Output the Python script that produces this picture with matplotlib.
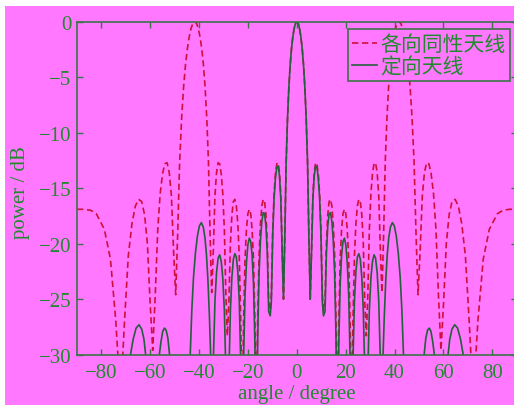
import matplotlib
matplotlib.use('Agg')
import matplotlib.pyplot as plt
from matplotlib.patches import Rectangle

# ---------------- data ----------------
iso_angle = [
    -90.0, -87.0, -84.3, -82.1, -78.8, -76.3, -74.1, -72.2,
    -70.5, -69.0, -67.5, -66.1, -64.79, -63.52, -62.33, -61.18, -60.07, -59.0,
    -57.96, -56.94, -55.95, -54.98, -54.05, -53.13, -52.23, -51.35, -50.48, -49.6,
    -48.8, -47.98, -47.17, -46.37, -45.6, -44.8, -44.05, -43.3, -42.55, -41.8,
    -41.08, -40.36, -39.65, -38.95, -38.24, -37.56, -36.87, -36.19, -35.52, -34.85,
    -34.19, -33.53, -32.88, -32.23, -31.59, -30.95, -30.32, -29.68, -29.06, -28.44,
    -27.82, -27.2, -26.59, -25.98, -25.38, -24.77, -24.17, -23.58, -22.99, -22.39,
    -21.8, -21.22, -20.63, -20.05, -19.47, -18.89, -18.32, -17.75, -17.17, -16.6,
    -16.03, -15.47, -14.9, -14.34, -13.77, -13.21, -12.65, -12.09, -11.54, -10.9,
    -10.43, -9.87, -9.32, -8.77, -8.21, -7.66, -7.11, -6.56, -6.01, -5.47,
    -4.91, -4.37, -3.82, -3.27, -2.73, -2.18, -1.64, -1.09, -0.55,
    0.0,
    0.55, 1.09, 1.64, 2.18, 2.73, 3.27, 3.82, 4.37, 4.91,
    5.47, 6.01, 6.56, 7.11, 7.66, 8.21, 8.77, 9.32, 9.87, 10.43,
    10.9, 11.54, 12.09, 12.65, 13.21, 13.77, 14.34, 14.9, 15.47, 16.03,
    16.6, 17.17, 17.75, 18.32, 18.89, 19.47, 20.05, 20.63, 21.22, 21.8,
    22.39, 22.99, 23.58, 24.17, 24.77, 25.38, 25.98, 26.59, 27.2, 27.82,
    28.44, 29.06, 29.68, 30.32, 30.95, 31.59, 32.23, 32.88, 33.53, 34.19,
    34.85, 35.52, 36.19, 36.87, 37.56, 38.24, 38.95, 39.65, 40.36, 41.08,
    41.8, 42.55, 43.3, 44.05, 44.8, 45.6, 46.37, 47.17, 47.98, 48.8,
    49.6, 50.48, 51.35, 52.23, 53.13, 54.05, 54.98, 55.95, 56.94, 57.96,
    59.0, 60.07, 61.18, 62.33, 63.52, 64.79, 66.1, 67.5, 69.0, 70.5,
    72.2, 74.1, 76.3, 78.8, 82.1, 84.3, 87.0, 90.0,
]
iso_db = [
    -16.9, -16.9, -17.0, -17.3, -18.7, -21.4, -27.0, -34,
    -26.8, -21.1, -18.2, -16.6, -16.0, -16.2, -17.4, -20.0, -25.3, -29.6,
    -24.6, -18.7, -15.5, -13.7, -12.8, -12.7, -13.6, -15.7, -20.6, -24.6,
    -19.2, -12.6, -8.7, -5.9, -3.9, -2.4, -1.35, -0.6, -0.15, 0.0,
    -0.15, -0.6, -1.35, -2.4, -3.9, -5.9, -8.7, -12.6, -19.2, -24.4,
    -20.6, -15.7, -13.6, -12.7, -12.8, -13.7, -15.5, -18.7, -24.6, -28.3,
    -25.3, -20.0, -17.4, -16.2, -16.0, -16.6, -18.2, -21.1, -26.8, -36,
    -27.0, -21.4, -18.7, -17.3, -16.9, -17.3, -18.7, -21.4, -27.0, -36,
    -26.8, -21.1, -18.2, -16.6, -16.0, -16.2, -17.4, -20.0, -25.3, -26.0,
    -24.6, -18.7, -15.5, -13.7, -12.8, -12.7, -13.6, -15.7, -20.6, -25.0,
    -19.2, -12.6, -8.7, -5.9, -3.9, -2.4, -1.35, -0.6, -0.15,
    0.0,
    -0.15, -0.6, -1.35, -2.4, -3.9, -5.9, -8.7, -12.6, -19.2,
    -25.0, -20.6, -15.7, -13.6, -12.7, -12.8, -13.7, -15.5, -18.7, -24.6,
    -26.0, -25.3, -20.0, -17.4, -16.2, -16.0, -16.6, -18.2, -21.1, -26.8,
    -36, -27.0, -21.4, -18.7, -17.3, -16.9, -17.3, -18.7, -21.4, -27.0,
    -36, -26.8, -21.1, -18.2, -16.6, -16.0, -16.2, -17.4, -20.0, -25.3,
    -28.3, -24.6, -18.7, -15.5, -13.7, -12.8, -12.7, -13.6, -15.7, -20.6,
    -24.4, -19.2, -12.6, -8.7, -5.9, -3.9, -2.4, -1.35, -0.6, -0.15,
    0.0, -0.15, -0.6, -1.35, -2.4, -3.9, -5.9, -8.7, -12.6, -19.2,
    -24.6, -20.6, -15.7, -13.6, -12.7, -12.8, -13.7, -15.5, -18.7, -24.6,
    -29.6, -25.3, -20.0, -17.4, -16.2, -16.0, -16.6, -18.2, -21.1, -26.8,
    -34, -27.0, -21.4, -18.7, -17.3, -17.0, -16.9, -16.9,
]

dir_angle = [
    -90.0, -72.2, -69.0, -68.1, -67.0, -65.8, -64.6, -63.5, -62.6, -61.9, -61.0,
    -59.0, -57.0, -56.3, -55.6, -54.9, -54.2, -53.5, -52.8, -52.1, -51.5,
    -49.6, -46.0, -44.3, -43.65, -43.0, -42.3, -41.5, -40.7, -39.9, -39.1,
    -38.3, -37.6, -37.0, -36.4, -35.8, -35.3, -34.85,
    -34.19, -33.53, -32.88, -32.23, -31.59, -30.95, -30.32, -29.68, -29.06, -28.44,
    -27.82, -27.2, -26.59, -25.98, -25.38, -24.77, -24.17, -23.58, -22.99, -22.39,
    -21.8, -21.22, -20.63, -20.05, -19.47, -18.89, -18.32, -17.75, -17.17, -16.6,
    -16.03, -15.47, -14.9, -14.34, -13.77, -13.21, -12.65, -12.09, -11.54, -10.9,
    -10.43, -9.87, -9.32, -8.77, -8.21, -7.66, -7.11, -6.56, -6.01, -5.47,
    -4.91, -4.37, -3.82, -3.27, -2.73, -2.18, -1.64, -1.09, -0.55,
    0.0,
    0.55, 1.09, 1.64, 2.18, 2.73, 3.27, 3.82, 4.37, 4.91,
    5.47, 6.01, 6.56, 7.11, 7.66, 8.21, 8.77, 9.32, 9.87, 10.43,
    10.9, 11.54, 12.09, 12.65, 13.21, 13.77, 14.34, 14.9, 15.47, 16.03,
    16.6, 17.17, 17.75, 18.32, 18.89, 19.47, 20.05, 20.63, 21.22, 21.8,
    22.39, 22.99, 23.58, 24.17, 24.77, 25.38, 25.98, 26.59, 27.2, 27.82,
    28.44, 29.06, 29.68, 30.32, 30.95, 31.59, 32.23, 32.88, 33.53, 34.19,
    34.85, 35.3, 35.8, 36.4, 37.0, 37.6, 38.3, 39.1, 39.9, 40.7,
    41.5, 42.3, 43.0, 43.65, 44.3, 46.0, 49.6,
    51.5, 52.1, 52.8, 53.5, 54.2, 54.9, 55.6, 56.3, 57.0, 59.0,
    61.0, 61.9, 62.6, 63.5, 64.6, 65.8, 67.0, 68.1, 69.0, 72.2, 90.0,
]
dir_db = [
    -45, -45, -32.5, -30.0, -28.6, -27.6, -27.3, -27.7, -28.6, -30.0, -33.0,
    -45, -32.5, -30.0, -28.8, -27.9, -27.6, -27.8, -28.5, -30.0, -32.0,
    -45, -45, -35.0, -30.0, -26.0, -23.0, -20.8, -19.3, -18.4, -18.1,
    -18.5, -19.5, -21.0, -23.3, -26.5, -30.0, -35.0,
    -30.6, -25.2, -22.6, -21.3, -21.0, -21.6, -23.1, -26.0, -31.6, -35.1,
    -31.7, -26.0, -23.0, -21.4, -20.9, -21.2, -22.5, -25.1, -30.5, -40,
    -30.4, -24.6, -21.7, -20.1, -19.5, -19.8, -21.0, -23.6, -29.0, -40,
    -28.5, -22.7, -19.7, -18.0, -17.2, -17.3, -18.4, -20.9, -26.1, -26.5,
    -25.2, -19.2, -15.9, -14.1, -13.1, -13.0, -13.9, -16.0, -20.8, -25.0,
    -19.2, -12.6, -8.7, -5.9, -3.9, -2.4, -1.35, -0.6, -0.15,
    0.0,
    -0.15, -0.6, -1.35, -2.4, -3.9, -5.9, -8.7, -12.6, -19.2,
    -25.0, -20.8, -16.0, -13.9, -13.0, -13.1, -14.1, -15.9, -19.2, -25.2,
    -26.5, -26.1, -20.9, -18.4, -17.3, -17.2, -18.0, -19.7, -22.7, -28.5,
    -40, -29.0, -23.6, -21.0, -19.8, -19.5, -20.1, -21.7, -24.6, -30.4,
    -40, -30.5, -25.1, -22.5, -21.2, -20.9, -21.4, -23.0, -26.0, -31.7,
    -35.1, -31.6, -26.0, -23.1, -21.6, -21.0, -21.3, -22.6, -25.2, -30.6,
    -35.0, -30.0, -26.5, -23.3, -21.0, -19.5, -18.5, -18.1, -18.4, -19.3,
    -20.8, -23.0, -26.0, -30.0, -35.0, -45, -45,
    -32.0, -30.0, -28.5, -27.8, -27.6, -27.9, -28.8, -30.0, -32.5, -45,
    -33.0, -30.0, -28.6, -27.7, -27.3, -27.6, -28.6, -30.0, -32.5, -45, -45,
]

series_labels = ['各向同性天线', '定向天线']
x_ticks = [-80, -60, -40, -20, 0, 20, 40, 60, 80]
y_ticks = [0, -5, -10, -15, -20, -25, -30]
x_label = 'angle / degree'
y_label = 'power / dB'

# ---------------- style ----------------
BG = '#ff78ff'
TXT = '#218a2e'
SPINE = '#3a7448'
RED = '#d0103c'
GRN = '#25603c'
SERIF = ['Liberation Serif', 'DejaVu Serif']
CJK = ['Noto Sans CJK SC', 'DejaVu Sans']

W, H = 514, 406
fig = plt.figure(figsize=(W / 100, H / 100), dpi=100, facecolor='white')
fig.patches.append(Rectangle((5 / W, 0), 1, 1 - 7 / H, transform=fig.transFigure,
                             facecolor=BG, edgecolor='none', zorder=-10))

ax_l, ax_r, ax_t, ax_b = 77, 516.7, 22.7, 355.7
ax = fig.add_axes([ax_l / W, 1 - ax_b / H, (ax_r - ax_l) / W, (ax_b - ax_t) / H])
ax.set_facecolor(BG)

l1, = ax.plot(iso_angle, iso_db, color=RED, lw=1.2, linestyle=(0, (3.8, 2.2)),
              label=series_labels[0])
l2, = ax.plot(dir_angle, dir_db, color=GRN, lw=1.2, label=series_labels[1])

ax.set_xlim(-90, 90)
ax.set_ylim(-30, 0)
ax.set_xticks(x_ticks)
ax.set_yticks(y_ticks)
ax.tick_params(direction='in', top=True, right=True, length=4.5, width=1.0,
               color=SPINE, labelcolor=TXT, labelsize=15)
ax.tick_params(axis='x', pad=6)
ax.tick_params(axis='y', pad=4)
for lab in ax.get_xticklabels() + ax.get_yticklabels():
    lab.set_family(SERIF)
for sp in ax.spines.values():
    sp.set_color(SPINE)
    sp.set_linewidth(1.2)

ax.set_xlabel(x_label, fontsize=15, color=TXT, family=SERIF)
ax.set_ylabel(y_label, fontsize=15, color=TXT, family=SERIF)
ax.xaxis.set_label_coords(0.5, -0.087)
ax.yaxis.set_label_coords(-0.106, 0.49)

leg = ax.legend(handles=[l1, l2], loc='upper left', bbox_to_anchor=(0.616, 0.978),
                borderaxespad=0, borderpad=0.2, labelspacing=0.0,
                handlelength=1.2, handletextpad=0.15, fancybox=False,
                framealpha=1, facecolor=BG, edgecolor=SPINE,
                prop={'family': CJK, 'size': 15})
leg.get_frame().set_linewidth(1.2)
for t in leg.get_texts():
    t.set_color(TXT)

fig.savefig('out.png', dpi=100, facecolor=fig.get_facecolor())
